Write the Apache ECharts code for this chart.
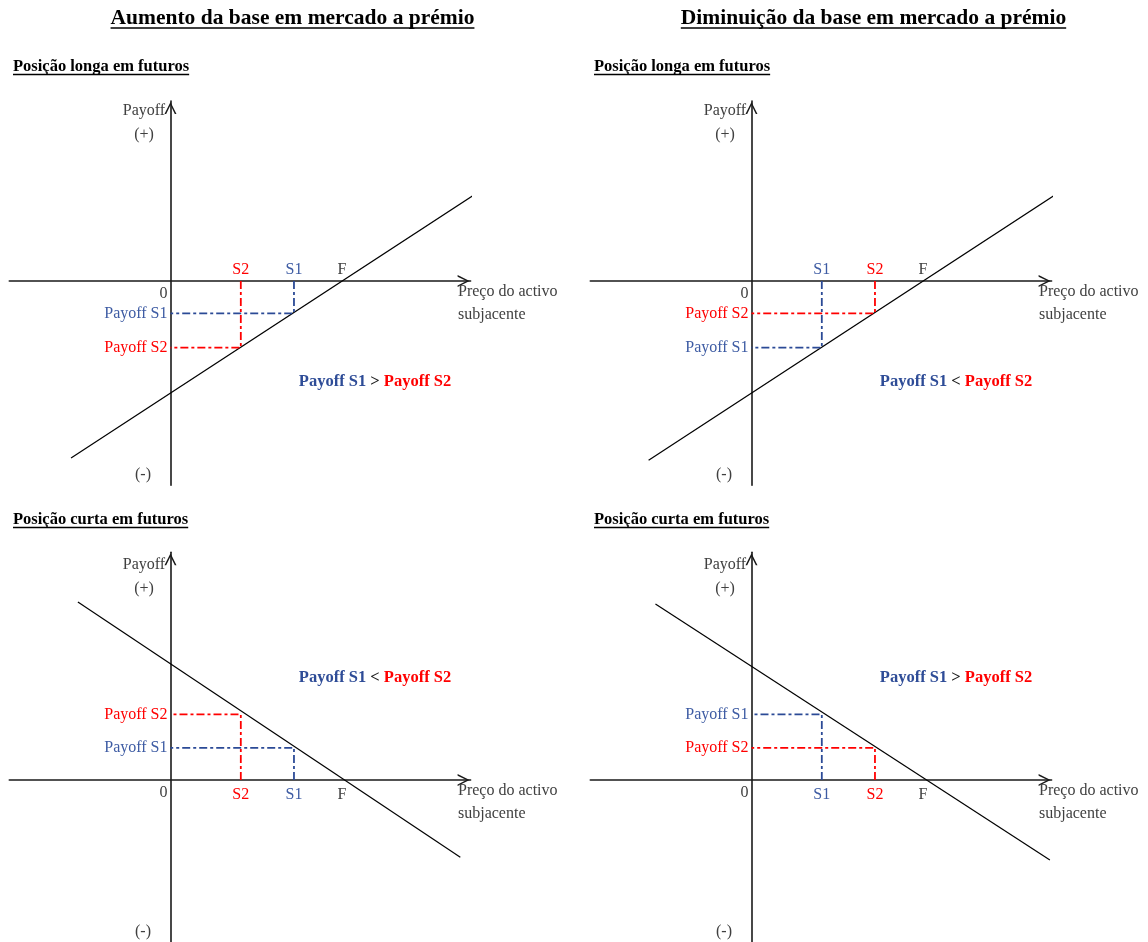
<!DOCTYPE html>
<html><head><meta charset="utf-8">
<script src="https://cdn.jsdelivr.net/npm/echarts@6/dist/echarts.min.js"></script>
<style>html,body{margin:0;padding:0;background:#fff}#c{width:1148px;height:942px}</style>
</head><body><div id="c"></div>
<script>
// ---------- data (panels: top-left, top-right, bottom-left, bottom-right) ----------
const columnTitles = ['Aumento da base em mercado a prémio', 'Diminuição da base em mercado a prémio'];
const rowTitles = ['Posição longa em futuros', 'Posição curta em futuros'];
const F = 10;
const s1Price = [7.2, 4.1, 7.2, 4.1];
const s2Price = [4.1, 7.2, 4.1, 7.2];
const payoffS1 = [-1.88, -3.88, 1.88, 3.83];
const payoffS2 = [-3.88, -1.88, 3.83, 1.88];
const payoffLineX = [[-5.8, 17.87], [-6.0, 17.9], [-5.4, 16.9], [-5.6, 17.4]];
const payoffLineY = [[-10.32, 5.13], [-10.45, 5.15], [10.38, -4.5], [10.26, -4.66]];
const comparisonSign = ['>', '<', '<', '>'];
const tickNames = ['S1', 'S2', 'F'];
const payoffNames = ['Payoff S1', 'Payoff S2'];
const axisXName = ['Preço do activo', 'subjacente'];

// ---------- styles ----------
const FONT = '"Liberation Serif", "DejaVu Serif", serif';
const BLUE_LINE = '#2B4A96', BLUE_TXT = '#3D5BA3', RED = '#FF0000', GREY = '#404040';
const DASH = [8, 3, 3, 3];
const ARROW = 'path://M0,100 L50,0 L100,100 L86,100 L50,26 L14,100 Z';
const FS = 16;

const chart = echarts.init(document.getElementById('c'), null, {renderer: 'canvas'});

const grids = [], xAxes = [], yAxes = [], series = [];
for (let i = 0; i < 4; i++) {
  const col = i % 2, row = Math.floor(i / 2);
  grids.push({left: [9.3, 590.3][col], width: 461.3, top: [101, 552.3][row], height: [384.2, 392.4][row],
              containLabel: false, outerBoundsMode: 'none'});
  const axisLine = {show: true, onZero: true, symbol: ['none', ARROW], symbolSize: [12, 14], symbolOffset: [0, -7],
                    lineStyle: {color: '#1a1a1a', width: 1.6}};
  xAxes.push({type: 'value', gridIndex: i, min: -9.4, max: 17.5, axisLine: axisLine,
              axisTick: {show: false}, splitLine: {show: false}, axisLabel: {show: false}});
  yAxes.push({type: 'value', gridIndex: i, min: [-11.9, -9.6][row], max: [10.5, 13.28][row], axisLine: axisLine,
              axisTick: {show: false}, splitLine: {show: false}, axisLabel: {show: false}});
  series.push({
    type: 'line', xAxisIndex: i, yAxisIndex: i, symbol: 'none', silent: true, z: 3,
    lineStyle: {color: '#000', width: 1.2},
    data: [[payoffLineX[i][0], payoffLineY[i][0]], [payoffLineX[i][1], payoffLineY[i][1]]]
  });
  series.push({
    type: 'line', xAxisIndex: i, yAxisIndex: i, symbol: 'none', silent: true, z: 4,
    lineStyle: {color: BLUE_LINE, width: 1.8, type: DASH},
    data: [[s1Price[i], 0], [s1Price[i], payoffS1[i]], [0, payoffS1[i]]]
  });
  series.push({
    type: 'line', xAxisIndex: i, yAxisIndex: i, symbol: 'none', silent: true, z: 4,
    lineStyle: {color: RED, width: 1.8, type: DASH},
    data: [[s2Price[i], 0], [s2Price[i], payoffS2[i]], [0, payoffS2[i]]]
  });
  // tick labels on the price axis
  const tickVals = [s1Price[i], s2Price[i], F];
  const tickCols = [BLUE_TXT, RED, GREY];
  series.push({
    type: 'scatter', xAxisIndex: i, yAxisIndex: i, symbolSize: 0, silent: true, z: 5,
    itemStyle: {opacity: 1},
    label: {show: true, position: row === 0 ? 'top' : 'bottom', distance: row === 0 ? 3 : 7,
            fontFamily: FONT, fontSize: FS, formatter: function (p) { return p.name; }},
    data: tickVals.map(function (v, k) {
      return {name: tickNames[k], value: [v, 0], label: {color: tickCols[k]}};
    })
  });
  // payoff labels on the payoff axis
  const pVals = [payoffS1[i], payoffS2[i]];
  const pCols = [BLUE_TXT, RED];
  series.push({
    type: 'scatter', xAxisIndex: i, yAxisIndex: i, symbolSize: 0, silent: true, z: 5,
    itemStyle: {opacity: 1},
    label: {show: true, position: 'left', distance: 3, fontFamily: FONT, fontSize: FS,
            formatter: function (p) { return p.name; }},
    data: pVals.map(function (v, k) {
      return {name: payoffNames[k], value: [0, v], label: {color: pCols[k]}};
    })
  });
}

chart.setOption({animation: false, backgroundColor: '#fff', grid: grids, xAxis: xAxes, yAxis: yAxes, series: series});

// ---------- text annotations ----------
const meas = document.createElement('canvas').getContext('2d');
function textW(font, t) { meas.font = font; return meas.measureText(t).width; }
const graphics = [];
function txt(t, x, y, opts) {
  graphics.push({type: 'text', silent: true, z: 10, style: Object.assign({text: t, x: x, y: y, fill: GREY,
    font: FS + 'px ' + FONT, align: 'center', verticalAlign: 'middle'}, opts || {})});
}
function underline(x1, x2, y, w) {
  graphics.push({type: 'line', silent: true, z: 10, shape: {x1: x1, y1: y, x2: x2, y2: y}, style: {stroke: '#000', lineWidth: w}});
}
const titleFont = 'bold 21.5px ' + FONT;
[292.5, 873.5].forEach(function (cx, c) {
  txt(columnTitles[c], cx, 18, {font: titleFont, fill: '#000'});
  const w = textW(titleFont, columnTitles[c]);
  underline(cx - w / 2, cx + w / 2, 28, 1.6);
});
const subFont = 'bold 16.5px ' + FONT;
for (let r = 0; r < 2; r++) for (let c = 0; c < 2; c++) {
  const x = [13, 594][c], y = [66.5, 519.5][r];
  txt(rowTitles[r], x, y, {font: subFont, fill: '#000', align: 'left'});
  underline(x, x + textW(subFont, rowTitles[r]), y + 8, 1.4);
}
const cmpFont = 'bold 16.5px ' + FONT;
for (let i = 0; i < 4; i++) {
  const row = Math.floor(i / 2);
  const o = chart.convertToPixel({gridIndex: i}, [0, 0]);
  const ox = o[0], oy = o[1];
  const top = grids[i].top;
  txt('Payoff', ox - 26.5, top + (row === 0 ? 10 : 12.7));
  txt('(+)', ox - 26.5, top + (row === 0 ? 34 : 36.7));
  txt('(-)', ox - 27.5, row === 0 ? oy + 194 : oy + 152);
  txt('0', ox - 3, oy + 13, {align: 'right'});
  txt(axisXName[0], ox + 287.5, oy + 11, {align: 'left'});
  txt(axisXName[1], ox + 287.5, oy + 34, {align: 'left'});
  txt('{b|Payoff S1} {k|' + comparisonSign[i] + '} {r|Payoff S2}', ox + 204.5, row === 0 ? oy + 101 : oy - 102, {
    font: cmpFont,
    rich: {b: {fill: '#2E4C97', font: cmpFont}, k: {fill: '#222', font: cmpFont}, r: {fill: RED, font: cmpFont}}
  });
}
chart.setOption({graphic: {elements: graphics}});
</script>
</body></html>
